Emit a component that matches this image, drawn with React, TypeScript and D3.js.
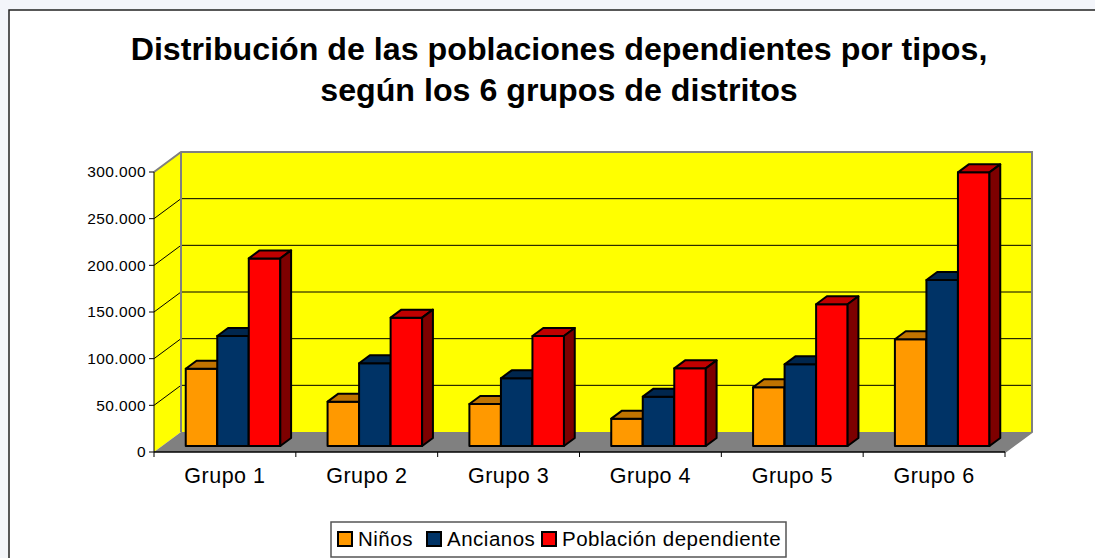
import React from 'react'
import * as d3 from 'd3'

const groups = ['Grupo 1', 'Grupo 2', 'Grupo 3', 'Grupo 4', 'Grupo 5', 'Grupo 6']
const seriesNames = ['Niños', 'Ancianos', 'Población dependiente']
const ninos = [82800, 47500, 45000, 29300, 62900, 114300]
const ancianos = [117900, 88600, 72500, 52900, 87500, 177900]
const dependiente = [201000, 137500, 117900, 83200, 151800, 293200]
const yTicks = [0, 50000, 100000, 150000, 200000, 250000, 300000]
const colors = ['#FF9900', '#003366', '#FF0000']
const titleLines = ['Distribución de las poblaciones dependientes por tipos,', 'según los 6 grupos de distritos']

const W = 1095
const H = 558
const FONT = 'Liberation Sans, Arial, sans-serif'

// plot box (front plane) and 3d depth offset
const left = 154, right = 1005, top = 172, bottom = 452
const depthX = 27, depthY = -20
const barFront = 0.3, barBack = 0.7

export default function App() {
  const values = [ninos, ancianos, dependiente]

  const x = d3.scaleBand<string>().domain(groups).range([left, right])
  const y = d3.scaleLinear().domain([0, 300000]).range([bottom, top])
  const bw = x.bandwidth()
  const gap = (bw * 1.5) / 4.5
  const inner = d3.scaleBand<string>().domain(seriesNames).range([gap / 2, bw - gap / 2])

  const fmt = d3.formatLocale({ decimal: ',', thousands: '.', grouping: [3], currency: ['', ''] }).format(',')

  const sx = (t: number) => depthX * t
  const sy = (t: number) => depthY * t
  const pts = (p: number[][]) => p.map(d => d.join(',')).join(' ')

  const bx = left + depthX, by = top + depthY, bb = bottom + depthY
  const rx = right + depthX

  const bars: React.ReactNode[] = []
  groups.forEach((g, gi) => {
    seriesNames.forEach((s, si) => {
      const v = values[si][gi]
      const c = d3.color(colors[si])!
      const x0 = (x(g) as number) + (inner(s) as number) + sx(barFront)
      const x1 = x0 + inner.bandwidth()
      const yt = y(v) + sy(barFront)
      const yb = y(0) + sy(barFront)
      const ddx = depthX * (barBack - barFront)
      const ddy = depthY * (barBack - barFront)
      const topC = d3.rgb(c).darker(0.8).toString()
      const sideC = d3.rgb(c).darker(2).toString()
      bars.push(
        <g key={g + s} stroke="#000" strokeWidth={2} strokeLinejoin="round">
          <polygon points={pts([[x0, yt], [x1, yt], [x1, yb], [x0, yb]])} fill={colors[si]} />
          <polygon points={pts([[x0, yt], [x1, yt], [x1 + ddx, yt + ddy], [x0 + ddx, yt + ddy]])} fill={topC} />
          <polygon points={pts([[x1, yt], [x1 + ddx, yt + ddy], [x1 + ddx, yb + ddy], [x1, yb]])} fill={sideC} />
        </g>
      )
    })
  })

  const legendX = [338, 427, 542]

  return (
    <svg width={W} height={H} style={{ position: 'absolute', left: 0, top: 0, display: 'block' }} fontFamily={FONT}>
      <rect x={0} y={0} width={W} height={H} fill="#f3f5fa" />
      <rect x={9} y={10} width={W + 10} height={H + 10} fill="#fff" stroke="#222" strokeWidth={1.5} />

      {titleLines.map((t, i) => (
        <text key={i} x={559} y={60 + i * 41} textAnchor="middle" fontSize={32.2} fontWeight="bold" fill="#000">{t}</text>
      ))}

      {/* walls */}
      <polygon points={pts([[left, top], [bx, by], [bx, bb], [left, bottom]])} fill="#FFFF00" />
      <rect x={bx} y={by} width={rx - bx} height={bb - by} fill="#FFFF00" />

      {/* gridlines */}
      {yTicks.slice(1, -1).map(t => (
        <g key={t} stroke="#000" strokeWidth={1}>
          <line x1={bx} x2={rx} y1={y(t) + depthY} y2={y(t) + depthY} />
          <line x1={left} x2={bx} y1={y(t)} y2={y(t) + depthY} />
        </g>
      ))}

      {/* floor */}
      <polygon points={pts([[left, bottom], [bx, bb], [rx, bb], [right, bottom]])} fill="#808080" />

      {/* wall borders */}
      <polyline points={pts([[left, top], [bx, by], [rx, by], [rx, bb], [right, bottom]])} fill="none" stroke="#808080" strokeWidth={2} />
      <line x1={bx} x2={bx} y1={by} y2={bb} stroke="#808080" strokeWidth={2} />

      {/* axes */}
      <line x1={left} x2={left} y1={top} y2={bottom} stroke="#000" strokeWidth={1} />
      <line x1={left} x2={right} y1={bottom} y2={bottom} stroke="#000" strokeWidth={1.5} />
      {yTicks.map(t => (
        <g key={t}>
          <line x1={left - 5} x2={left} y1={y(t)} y2={y(t)} stroke="#000" />
          <text x={146} y={y(t)} dy="0.35em" textAnchor="end" fontSize={15.5} letterSpacing={0.4} fill="#000">{fmt(t)}</text>
        </g>
      ))}
      {[...groups.map(g => x(g) as number), right].map((v, i) => (
        <line key={i} x1={v} x2={v} y1={bottom} y2={bottom + 5} stroke="#000" />
      ))}
      {groups.map(g => (
        <text key={g} x={(x(g) as number) + bw / 2} y={483} textAnchor="middle" fontSize={21.5} letterSpacing={0.5} fill="#000">{g}</text>
      ))}

      {bars}

      {/* legend */}
      <rect x={331} y={522} width={455} height={35} fill="#fff" stroke="#555" strokeWidth={1.5} />
      {seriesNames.map((s, i) => (
        <g key={s}>
          <rect x={legendX[i]} y={532} width={14} height={14} fill={colors[i]} stroke="#000" strokeWidth={2} />
          <text x={legendX[i] + 20} y={546} fontSize={20.5} letterSpacing={0.5} fill="#000">{s}</text>
        </g>
      ))}
    </svg>
  )
}
